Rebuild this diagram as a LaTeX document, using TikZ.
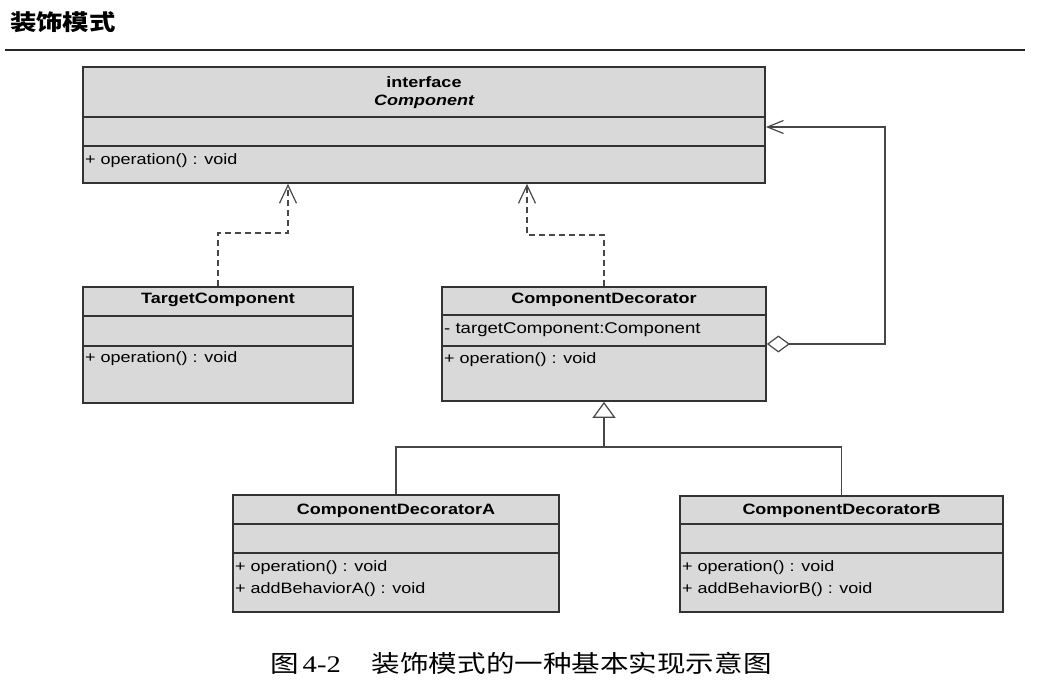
\documentclass[tikz,border=0pt]{standalone}
\usepackage{fontspec}
\setmainfont{Liberation Sans}[FakeStretch=1.2]
\newfontfamily\cjk{Noto Sans CJK SC}[FakeStretch=1.2]
\newfontfamily\sernum{Liberation Serif}[FakeStretch=1.2]
\usetikzlibrary{arrows.meta}
\tikzset{
  cls/.style={draw=black!80, line width=1.8pt, fill=black!15, inner sep=0pt},
  divline/.style={draw=black!80, line width=1.6pt},
  conn/.style={draw=black!72, line width=1.2pt},
  dep/.style={conn, dash pattern=on 6pt off 4pt, -{Straight Barb[length=18pt,width=17pt,line width=1.2pt]}},
  agg/.style={conn, {Diamond[open,length=23pt,width=17pt,line width=1.2pt,fill=white]}-{Straight Barb[length=16pt,width=13pt,line width=1.2pt]}},
  gen/.style={conn, -{Triangle[open,length=16pt,width=23pt,line width=1.2pt,fill=white]}},
  hdr/.style={font=\fontsize{15}{18}\selectfont\bfseries, inner sep=0pt},
  mem/.style={font=\fontsize{15}{18}\selectfont, inner sep=0pt, anchor=west},
}
\begin{document}
\begin{tikzpicture}[x=1pt,y=-1pt]
\useasboundingbox (0,0) rectangle (1045,687);
\fill[white] (0,0) rectangle (1045,687);

% title and rule
\node[anchor=west, inner sep=0pt, font=\fontsize{22}{24}\selectfont\cjk\bfseries] (title) at (10,22) {装饰模式};
\draw[line width=1.8pt, black!85] (5,50) -- (1025,50);

% Component (interface)
\node[cls, minimum width=682pt, minimum height=116pt] (comp) at (424,125) {};
\draw[divline] (83,117) -- (765,117);
\draw[divline] (83,146) -- (765,146);
\node[hdr] (compst) at (424,82) {interface};
\node[hdr, font=\fontsize{15}{18}\selectfont\bfseries\itshape] (compname) at (424,102) {Component};
\node[mem] (compop) at (85,161) {+ operation() : void};

% TargetComponent
\node[cls, minimum width=270pt, minimum height=116pt] (target) at (218,345) {};
\draw[divline] (83,316) -- (353,316);
\draw[divline] (83,346) -- (353,346);
\node[hdr] (targetname) at (218,300) {TargetComponent};
\node[mem] (targetop) at (85,359) {+ operation() : void};

% ComponentDecorator
\node[cls, minimum width=324pt, minimum height=114pt] (dec) at (604,344) {};
\draw[divline] (442,315) -- (766,315);
\draw[divline] (442,346) -- (766,346);
\node[hdr] (decname) at (604,300) {ComponentDecorator};
\node[mem, font=\fontsize{15.5}{18}\selectfont] (decattr) at (444,330) {- targetComponent:Component};
\node[mem] (decop) at (444,360) {+ operation() : void};

% ComponentDecoratorA
\node[cls, minimum width=326pt, minimum height=117pt] (decA) at (396,553.5) {};
\draw[divline] (233,524) -- (559,524);
\draw[divline] (233,553) -- (559,553);
\node[hdr] (decAname) at (396,511) {ComponentDecoratorA};
\node[mem] (decAop) at (235,568) {+ operation() : void};
\node[mem] (decAb) at (235,590) {+ addBehaviorA() : void};

% ComponentDecoratorB
\node[cls, minimum width=323pt, minimum height=116pt] (decB) at (841.5,554) {};
\draw[divline] (680,524) -- (1003,524);
\draw[divline] (680,553) -- (1003,553);
\node[hdr] (decBname) at (841.5,511) {ComponentDecoratorB};
\node[mem] (decBop) at (682,568) {+ operation() : void};
\node[mem] (decBb) at (682,590) {+ addBehaviorB() : void};

% connectors
\coordinate (tbend) at (288,233);
\coordinate (dbend) at (527,235);
\coordinate (aggr) at (885,127);
\coordinate (bus) at (604,447);

\draw[dep] (target.north) |- (tbend) -- (comp.south -| tbend);
\draw[dep] (dec.north) |- (dbend) -- (comp.south -| dbend);
\draw[agg] (dec.east) -| (aggr) -- (comp.east |- aggr);
\draw[gen] (decA.north) |- (bus) -- (dec.south);
\draw[conn] (decB.north) |- (bus);

% caption
\node[anchor=west, inner sep=0pt, font=\fontsize{23.8}{26}\selectfont\cjk] (caption) at (270,663) {图\,{\sernum 4-2}\hspace{31pt}装饰模式的一种基本实现示意图};
\end{tikzpicture}
\end{document}
